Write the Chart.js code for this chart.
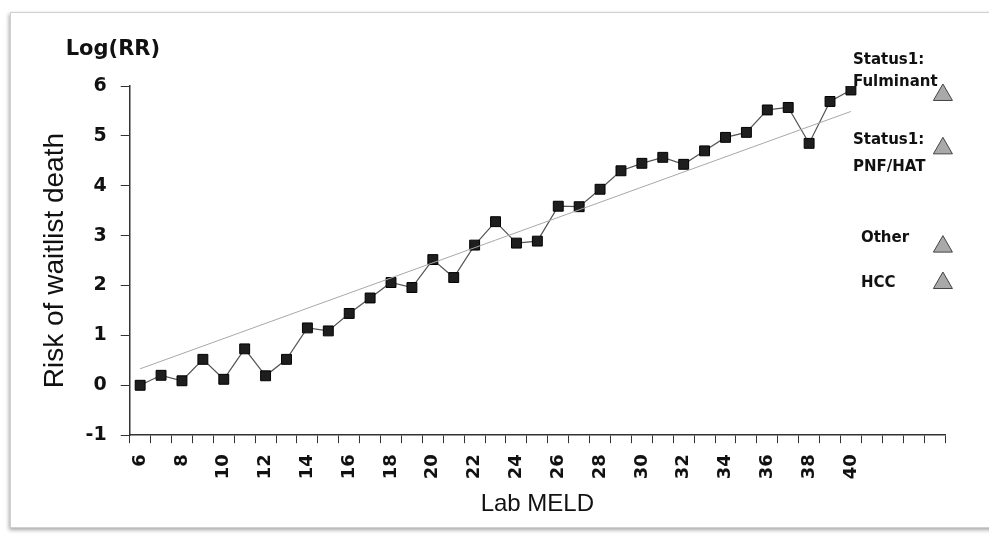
<!DOCTYPE html>
<html>
<head>
<meta charset="utf-8">
<script src="https://cdn.jsdelivr.net/npm/chart.js@4.4.0/dist/chart.umd.min.js"></script>
<style>
  html, body { margin: 0; padding: 0; background: #fff; }
  #frame {
    position: absolute; left: 10px; top: 12px; width: 1000px; height: 514px;
    border: 1px solid #d0d0d0; box-shadow: -1px 2px 4px rgba(0,0,0,0.35);
    background: #fff;
  }
  #wrap { position: absolute; left: 0; top: 0; width: 989px; height: 534px; }
</style>
</head>
<body>
<div id="frame"></div>
<div id="wrap"><canvas id="chart" width="989" height="534"></canvas></div>
<script>
// Lab MELD scores and the log relative risk
const meldLevels = [6, 7, 8, 9, 10, 11, 12, 13, 14, 15, 16, 17, 18, 19, 20, 21, 22, 23,
    24, 25, 26, 27, 28, 29, 30, 31, 32, 33, 34, 35, 36, 37, 38, 39, 40];
const riskValues = [0.00, 0.20, 0.09, 0.52, 0.12, 0.73, 0.19, 0.52, 1.15, 1.09, 1.44, 1.75,
    2.06, 1.96, 2.52, 2.16, 2.81, 3.28, 2.85, 2.89, 3.59, 3.58, 3.93, 4.30, 4.45, 4.57,
    4.43, 4.70, 4.97, 5.07, 5.52, 5.57, 4.85, 5.69, 5.92];

// Linear fit line (end points)
const trendMeld = [6, 40];
const trendRisk = [0.33, 5.49];

// Exception groups shown as triangles on the right
const groupLines = [['Status1:', 'Fulminant'], ['Status1:', 'PNF/HAT'], ['Other'], ['HCC']];
const groupRisk = [5.82, 4.75, 2.78, 2.05];
const groupMeld = 44.4;

// Axis ticks
const xTicks = [6, 7, 8, 9, 10, 11, 12, 13, 14, 15, 16, 17, 18, 19, 20, 21, 22, 23, 24, 25,
    26, 27, 28, 29, 30, 31, 32, 33, 34, 35, 36, 37, 38, 39, 40, 41, 42, 43, 44];
const xTickLabels = [6, 8, 10, 12, 14, 16, 18, 20, 22, 24, 26, 28, 30, 32, 34, 36, 38, 40];
const yTicks = [-1, 0, 1, 2, 3, 4, 5, 6];

// where each text line sits relative to its triangle
const lineOffsets = [
    [[-90, -35], [-90, -13]],
    [[-90, -8], [-90, 19]],
    [[-82, -9]],
    [[-82, 0]]
];

const textPlugin = {
    id: 'textPlugin',
    afterDraw(chart) {
        const { ctx, chartArea, scales } = chart;
        ctx.save();
        ctx.fillStyle = '#111';
        ctx.textBaseline = 'middle';
        ctx.textAlign = 'left';
        ctx.font = 'bold 21px "DejaVu Sans"';
        ctx.fillText('Log(RR)', chartArea.left - 64, 50);

        ctx.font = 'bold 15px "DejaVu Sans"';
        groupLines.forEach((lines, i) => {
            const px = scales.x.getPixelForValue(groupMeld);
            const py = scales.y.getPixelForValue(groupRisk[i]);
            lines.forEach((t, j) => {
                const off = lineOffsets[i][j];
                ctx.fillText(t, px + off[0], py + off[1]);
            });
        });
        ctx.restore();
    }
};

const ctx = document.getElementById('chart').getContext('2d');

new Chart(ctx, {
    type: 'line',
    data: {
        datasets: [
            {
                label: 'Trend',
                data: trendMeld.map((m, i) => ({ x: m, y: trendRisk[i] })),
                borderColor: '#a8a8a8',
                borderWidth: 1,
                pointRadius: 0
            },
            {
                label: 'Lab MELD',
                data: meldLevels.map((m, i) => ({ x: m, y: riskValues[i] })),
                borderColor: '#555',
                borderWidth: 1.2,
                pointStyle: 'rect',
                pointRadius: 7,
                pointBackgroundColor: '#1e1e1e',
                pointBorderColor: '#000',
                pointBorderWidth: 1
            },
            {
                label: 'Groups',
                data: groupRisk.map(r => ({ x: groupMeld, y: r })),
                showLine: false,
                pointStyle: 'triangle',
                pointRadius: 11,
                pointBackgroundColor: '#a9a9a9',
                pointBorderColor: '#444',
                pointBorderWidth: 1,
                clip: false
            }
        ]
    },
    options: {
        responsive: false,
        animation: false,
        layout: { padding: { left: 29, right: 44, top: 86, bottom: 0 } },
        plugins: {
            legend: { display: false },
            tooltip: { enabled: false }
        },
        scales: {
            x: {
                type: 'linear',
                min: 5.5,
                max: 44.5,
                afterBuildTicks: s => { s.ticks = xTicks.map(v => ({ value: v })); },
                border: { color: '#333', width: 1.5 },
                grid: {
                    offset: true,
                    drawOnChartArea: false,
                    drawTicks: true,
                    tickLength: 8,
                    color: '#333'
                },
                ticks: {
                    autoSkip: false,
                    maxRotation: 90,
                    minRotation: 90,
                    padding: 11,
                    color: '#111',
                    font: { family: 'DejaVu Sans', weight: 'bold', size: 18 },
                    callback: v => xTickLabels.includes(v) ? String(v) : ''
                },
                title: {
                    display: true,
                    text: 'Lab MELD',
                    color: '#111',
                    font: { family: 'Liberation Sans', size: 24 },
                    padding: { top: 0, bottom: 15 }
                }
            },
            y: {
                min: -1,
                max: 6,
                afterBuildTicks: s => { s.ticks = yTicks.map(v => ({ value: v })); },
                border: { color: '#333', width: 1.5 },
                grid: {
                    drawOnChartArea: false,
                    drawTicks: true,
                    tickLength: 9,
                    color: '#333'
                },
                ticks: {
                    padding: 14,
                    color: '#111',
                    font: { family: 'DejaVu Sans', weight: 'bold', size: 19 }
                },
                title: {
                    display: true,
                    text: 'Risk of waitlist death',
                    color: '#111',
                    font: { family: 'Liberation Sans', size: 28 },
                    padding: { top: 9, bottom: 0 }
                }
            }
        }
    },
    plugins: [textPlugin]
});
</script>
</body>
</html>
